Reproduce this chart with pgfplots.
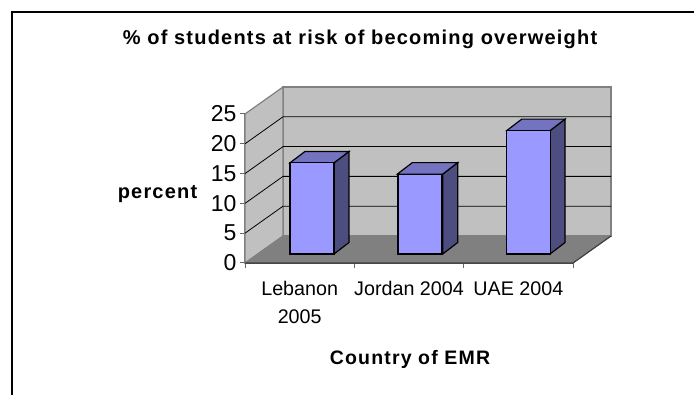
\documentclass[border=0pt]{standalone}
\usepackage{pgfplots}
\pgfplotsset{compat=1.18}
\usepackage{fontspec}
\setmainfont{Liberation Sans}
\definecolor{wall}{HTML}{C0C0C0}
\definecolor{edge}{HTML}{808080}
\definecolor{barfront}{HTML}{9999FF}
\definecolor{barside}{HTML}{4D4D80}
\definecolor{bartop}{HTML}{7373BF}
\begin{document}
\begin{tikzpicture}[x=1pt,y=1pt]
\useasboundingbox (0,0) rectangle (694,395);
\fill[white] (0,0) rectangle (694,395);
\draw[black,line width=2pt] (12,-2) -- (12,383) -- (696,383);
\node[font=\bfseries\fontsize{20}{20}\selectfont\addfontfeature{LetterSpace=6}] at (360,356) {\% of students at risk of becoming overweight};
\node[font=\bfseries\fontsize{20}{20}\selectfont\addfontfeature{LetterSpace=6}] at (157.5,201) {percent};
\node[font=\bfseries\fontsize{19.5}{19.5}\selectfont\addfontfeature{LetterSpace=6}] at (410,36) {Country of EMR};
\begin{axis}[
  at={(245pt,132pt)},anchor=south west,scale only axis,
  width=328pt,height=149pt,
  xmin=0,xmax=3,ymin=0,ymax=25,clip=false,
  axis x line=bottom,axis y line=left,
  axis line style={-},
  x axis line style={black!75,line width=1.2pt},
  y axis line style={edge,line width=1.2pt},
  xtick={0,1,2,3},
  x tick label as interval,
  xticklabels={Lebanon\\2005,Jordan 2004,UAE 2004},
  xticklabel style={align=center,font=\fontsize{19.7}{28}\selectfont,anchor=north,yshift=-10pt},
  x tick style={draw=black!60,line width=1pt},
  ytick={0,5,10,15,20,25},
  y tick style={draw=black!60,line width=1pt},
  major tick length=5pt,
  tick align=outside,
  yticklabel style={font=\fontsize{23}{23}\selectfont,xshift=0pt},
  /pgf/number format/assume math mode=true,
]
% walls and floor
\addplot[fill=wall,draw=edge,line width=1.2pt] coordinates {(0.3476,4.53)(3.3476,4.53)(3.3476,29.53)(0.3476,29.53)} --cycle;
\addplot[fill=wall,draw=edge,line width=1.2pt] coordinates {(0,0)(0.3476,4.53)(0.3476,29.53)(0,25)} --cycle;
\addplot[fill=edge,draw=edge,line width=0.8pt] coordinates {(0,0)(3,0)(3.3476,4.53)(0.3476,4.53)} --cycle;
% grid
\addplot[black,line width=0.8pt] coordinates {(0,5)(0.3476,9.53)(3.3476,9.53)};
\addplot[black,line width=0.8pt] coordinates {(0,10)(0.3476,14.53)(3.3476,14.53)};
\addplot[black,line width=0.8pt] coordinates {(0,15)(0.3476,19.53)(3.3476,19.53)};
\addplot[black,line width=0.8pt] coordinates {(0,20)(0.3476,24.53)(3.3476,24.53)};
\addplot[black!75,line width=1.2pt] coordinates {(0,0)(3,0)(3.3476,4.53)};
% side faces
\addplot[fill=barside,draw=black,line width=1.2pt] coordinates {(0.8140,1.51)(0.9512,3.44)(0.9512,18.71)(0.8140,16.81)} --cycle;
\addplot[fill=barside,draw=black,line width=1.2pt] coordinates {(1.8083,1.51)(1.9455,3.44)(1.9455,16.84)(1.8083,14.91)} --cycle;
\addplot[fill=barside,draw=black,line width=1.2pt] coordinates {(2.7900,1.51)(2.9272,3.44)(2.9272,24.14)(2.7900,22.21)} --cycle;
% top faces
\addplot[fill=bartop,draw=black,line width=1.2pt] coordinates {(0.4116,16.81)(0.8140,16.81)(0.9512,18.71)(0.5488,18.71)} --cycle;
\addplot[fill=bartop,draw=black,line width=1.2pt] coordinates {(1.3930,14.91)(1.8083,14.91)(1.9455,16.84)(1.5302,16.84)} --cycle;
\addplot[fill=bartop,draw=black,line width=1.2pt] coordinates {(2.3940,22.21)(2.7900,22.21)(2.9272,24.14)(2.5312,24.14)} --cycle;
% front faces
\addplot[ybar,bar width=44pt,bar shift=0pt,fill=barfront,draw=black,line width=1.2pt,yshift=9pt] coordinates {(0.613,15.3)(1.600,13.4)(2.592,20.7)};
\end{axis}
\end{tikzpicture}
\end{document}
